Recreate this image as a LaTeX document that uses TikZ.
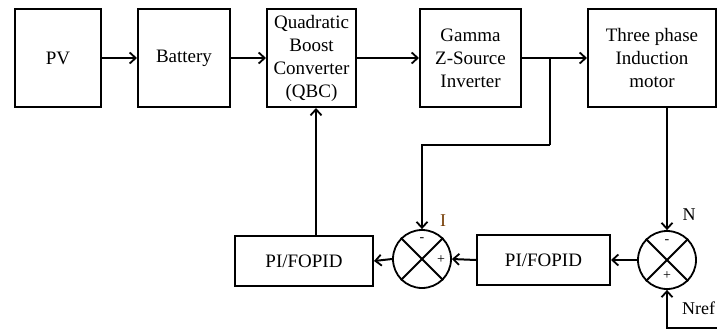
\documentclass[tikz,border=0pt]{standalone}
\usepackage{fontspec}
\setmainfont{Liberation Serif}
\usetikzlibrary{arrows.meta,calc}
\begin{document}
\begin{tikzpicture}[x=1pt,y=-1pt,
  blk/.style={draw,line width=2pt,align=center,inner sep=0pt,
    font=\fontsize{19}{23}\selectfont},
  sumc/.style={draw,line width=1.8pt,circle,minimum size=58pt,inner sep=0pt},
  conn/.style={line width=2pt,-{Straight Barb[length=6pt,width=11pt,line width=1.8pt]}},
  wire/.style={line width=2pt},
  sgn/.style={font=\fontsize{14}{14}\selectfont,inner sep=0pt},
  lbl/.style={font=\fontsize{18}{18}\selectfont,inner sep=0pt}]
\useasboundingbox (0,0) rectangle (717,332);
\node[blk,minimum width=86pt,minimum height=98pt] (pv) at (58,58) {PV};
\node[blk,minimum width=92pt,minimum height=98pt] (bat) at (184,58) {Battery};
\node[blk,minimum width=89pt,minimum height=98pt] (qbc) at (311.5,58) {Quadratic\\Boost\\Converter\\(QBC)};
\node[blk,minimum width=101pt,minimum height=98pt] (gzs) at (470.5,58) {Gamma\\Z-Source\\Inverter};
\node[blk,minimum width=128pt,minimum height=98pt] (mot) at (652,58) {Three phase\\Induction\\motor};
\node[blk,minimum width=138pt,minimum height=50pt] (pil) at (304,261) {PI/FOPID};
\node[blk,minimum width=133pt,minimum height=50pt] (pir) at (543.5,260) {PI/FOPID};
\node[sumc] (si) at (422,259) {};
\node[sumc] (sn) at (667,260) {};
\foreach \c in {si,sn}{
  \draw[line width=1.8pt] (\c.north west) -- (\c.south east);
  \draw[line width=1.8pt] (\c.north east) -- (\c.south west);
}
\node[sgn] (si-m) at (422,240) {-};
\node[sgn] (si-p) at (441,260) {+};
\node[sgn] (sn-m) at (667,242) {-};
\node[sgn] (sn-p) at (667,276) {+};
\node[lbl,text=black!55!orange] (li) at (443,221) {I};
\node[lbl] (ln) at (689,215) {N};
\node[lbl,anchor=west] (lnref) at (682,308) {Nref};
\draw[conn] (pv) -- (bat);
\draw[conn] (bat) -- (qbc);
\draw[conn] (qbc) -- (gzs);
\draw[conn] (gzs) -- (mot);
\coordinate (br) at (550,58);
\coordinate (br2) at (550,145);
\draw[wire] (br) -- (br2);
\draw[conn] (br2) -| (si.north);
\draw[conn] (mot.south -| sn.north) -- (sn.north);
\coordinate (nref) at (717,328);
\draw[conn] (nref) -| (sn.south);
\draw[conn] (sn.west) -- (pir.east);
\draw[conn] (pir.west) -- (si.east);
\draw[conn] (si.west) -- (pil.east);
\coordinate (fbq) at (316,236);
\draw[conn] (fbq) -- (fbq |- qbc.south);
\end{tikzpicture}
\end{document}
